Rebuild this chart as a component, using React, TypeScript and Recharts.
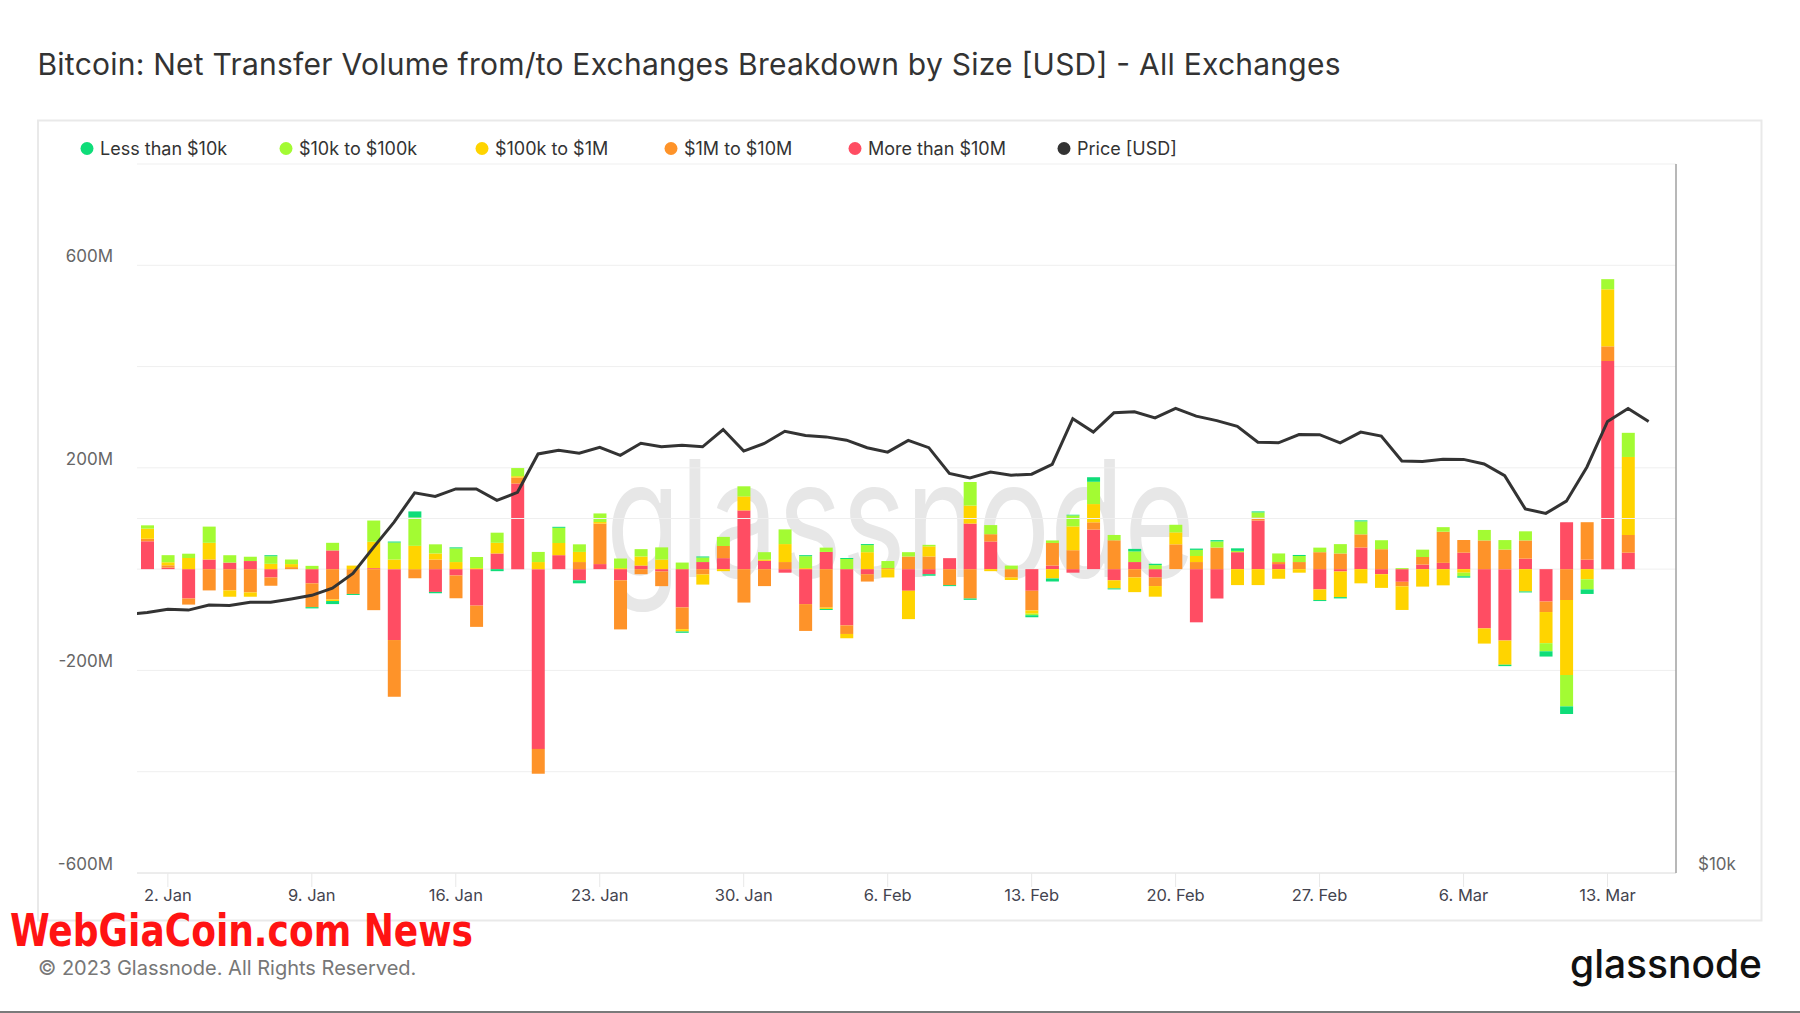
import {
  Bar,
  CartesianGrid,
  ComposedChart,
  Line,
  ReferenceLine,
  XAxis,
  YAxis,
} from 'recharts';

const FONT = 'Inter, "Noto Sans", "DejaVu Sans", sans-serif';

// plot box in page pixels
const PLOT_LEFT = 137;
const PLOT_RIGHT = 1676;
const PLOT_TOP = 164;
const PLOT_BOTTOM = 873;

// day index: 0 = 1 Jan 2023
const tickDays = [1, 8, 15, 22, 29, 36, 43, 50, 57, 64, 71];
const tickLabels = ['2. Jan', '9. Jan', '16. Jan', '23. Jan', '30. Jan', '6. Feb', '13. Feb', '20. Feb', '27. Feb', '6. Mar', '13. Mar'];

const flowTicks = [-600, -400, -200, 0, 200, 400, 600, 800];
const flowLabels = [-600, -200, 200, 600];

// net transfer volume, USD millions, 1 Jan .. 14 Mar
const lessThan10k = [
  0, 0, 0, 0, 0, 0, 2, 0, -2.5, -6, -2, 0, 2, 12, -2.6, 2, 0, -4, 0, 0,
  2, -6, 0, 0, 0, 0, -2.6, 2, 0, 0, 0, 0, 2, -2, 2, 2, 0, 0, -3, -2,
  -2.6, 0, 0, -4, -6, 1.3, 9, -2, 5, 2.6, 0, 2.6, 2.6, 5, 2, 0, 2, -2, -2.6, 2,
  0, 0, 0, 0, -2.8, 0, -2.8, -2, -10.4, -15, -9, 0, 0,
];
const from10kTo100k = [
  6.5, 14, 8.5, 32, 14.5, 8.5, 15, 9, 6.5, 15, 0, 42, 33.5, 56, 18, 27, 22, 20, 16, 20,
  30, 15, 17, 19, 14.5, 24, 13, 9, 18, 20, 14.5, 29, 23.6, 8.5, 20, 14, 14, 8.5, 3, 0,
  46.6, 18, 7, -3, 5, 21.7, 44, 10.5, 21, 8, 15, 12, 12, 2.6, 10, 17, 12, 9, 18.4, 25.6,
  17.7, 2, 14.5, 9, -7, 20.7, 18.7, 18, -16, -62, -20, 20, 47.7,
];
const from100kTo1M = [
  20, 6, 22, 33, -12.5, -8.5, 10.5, 6, 0, -3, 7, 52, 19, 46, 12, 14, 2, 21, 2.6, 14,
  24, 20, 3, 2, 18, 19, -4.6, -20, -4, 27.6, 2.6, 35.5, 2, -2.6, -8.5, 33.5, -16.4, -56, 20, 0,
  35.5, -4, -5, -6.5, -18.4, 47, 36, -16, -29, -21, 23.6, 12, 0, -31.5, -31.5, -19, -7, -21, -50.6, -28,
  -27, -46.6, -34.5, -32, -7, -30, -47.7, -44, -61.5, -148, -20, 112.6, 154,
];
const from1MTo10M = [
  5, 4.6, -12, -42, -42, -46, -16.4, 4, -47, -60, -49, -81, -112, -18, 19, -45, -42, 0, 12, -49,
  0, 14, 80, -97, -10, -29, -43, -10.5, 24, -66, -33.5, 14, -53, -76, -17, -14.5, 2, 25, 25, -31.5,
  -58, 14.5, -16.4, -38.8, 44.7, 37.4, 14.5, 57, -16.4, -17, 49, 14, 42.7, 0, 6, 4, 14, 33.5, 31, 26,
  39.4, -9, 15, 61.5, 25, 56.7, 38.7, 36, -20.7, -61, 74, 29, 35,
];
const moreThan10M = [
  55, 3, -58, 19, 13, 16, -16.4, 0, -28, 37, 0, 2, -140, 0, -45, -12.5, -72, 31, 169, -355,
  27.6, -22, 10, -22, 7, -4.6, -75.5, 14, 21.7, 116, 16.4, -7, -69, 34, -111, -10, 0, -42.7, -10, 21.7,
  90, 54.5, 0, -42.7, 7, -7, 78, -22, 14, -16.4, 0, -105, -58, 33.5, 96, 10, 0, -40, -4.6, 42.7,
  -10, -25, 9, 12.4, 32.5, -117, -141, 20.7, -64, 92.6, 18.7, 411, 32.5,
];

// BTC price, USD, 31 Dec .. 15 Mar
const priceFirstDay = -1;
const priceUsd = [
  16580, 16640, 16750, 16720, 16890, 16870, 16980, 16980, 17090, 17210, 17450,
  17960, 18900, 19860, 21030, 20880, 21190, 21190, 20720, 21050, 22690,
  22850, 22720, 22990, 22630, 23170, 23010, 23080, 23010, 23800, 22820,
  23160, 23720, 23520, 23460, 23310, 22970, 22770, 23300, 22970, 21840,
  21650, 21900, 21770, 21810, 22230, 24310, 23680, 24590, 24640, 24350,
  24810, 24430, 24220, 23950, 23220, 23190, 23570, 23560, 23190, 23680,
  23500, 22380, 22360, 22460, 22450, 22250, 21750, 20380, 20200, 20690,
  22120, 24180, 24800, 24180,
];

// stacking order: first entry sits next to zero
const stack = [
  { key: 'm10', name: 'More than $10M', color: '#ff4d63', values: moreThan10M },
  { key: 'm1', name: '$1M to $10M', color: '#fe9329', values: from1MTo10M },
  { key: 'k100', name: '$100k to $1M', color: '#ffd400', values: from100kTo1M },
  { key: 'k10', name: '$10k to $100k', color: '#a3fb33', values: from10kTo100k },
  { key: 'k0', name: 'Less than $10k', color: '#0fdd79', values: lessThan10k },
];

const legendItems = [
  { name: 'Less than $10k', color: '#0fdd79', x: 87 },
  { name: '$10k to $100k', color: '#a3fb33', x: 286 },
  { name: '$100k to $1M', color: '#ffd400', x: 482 },
  { name: '$1M to $10M', color: '#fe9329', x: 671 },
  { name: 'More than $10M', color: '#ff4d63', x: 855 },
  { name: 'Price [USD]', color: '#333333', x: 1064 },
];

const flowRows = moreThan10M.map((_, i) => {
  const row: Record<string, number> = { t: i };
  stack.forEach((s) => {
    row[s.key] = s.values[i];
  });
  return row;
});

const priceRows = priceUsd.map((p, i) => ({ t: i + priceFirstDay, price: p }));

function XTick({ x, payload }: any) {
  const label = tickLabels[tickDays.indexOf(payload.value)];
  return (
    <text x={x} y={PLOT_BOTTOM + 22} textAnchor="middle" dominantBaseline="central" fontFamily={FONT} fontSize={16.5} fill="#44444f">
      {label}
    </text>
  );
}

function FlowTick({ y, payload }: any) {
  if (!flowLabels.includes(payload.value)) return null;
  return (
    <text x={PLOT_LEFT - 24} y={y - 9} textAnchor="end" dominantBaseline="central" fontFamily={FONT} fontSize={17} fill="#666">
      {`${payload.value}M`}
    </text>
  );
}

function PriceTick({ y, payload }: any) {
  return (
    <text x={PLOT_RIGHT + 22} y={y - 9} textAnchor="start" dominantBaseline="central" fontFamily={FONT} fontSize={17} fill="#666">
      {`$${payload.value / 1000}k`}
    </text>
  );
}

export default function App() {
  return (
    <div style={{ position: 'relative', width: 1800, height: 1013, overflow: 'hidden', background: '#fff' }}>
      <style>{'body{margin:0}'}</style>

      <svg width={1800} height={1013} style={{ position: 'absolute', left: 0, top: 0 }}>
        <rect x={38} y={120.5} width={1723.5} height={800} fill="none" stroke="#e9e9e9" strokeWidth={2} />
        <text x={606} y={577} fontFamily={FONT} fontSize={162} fill="#e7e7e7" textLength={589} lengthAdjust="spacingAndGlyphs">
          glassnode
        </text>
      </svg>

      <div style={{ position: 'absolute', left: 0, top: 0 }}>
        <ComposedChart
          width={1800}
          height={1013}
          data={flowRows}
          stackOffset="sign"
          margin={{ top: PLOT_TOP, right: 1800 - PLOT_RIGHT - 60, bottom: 1013 - PLOT_BOTTOM - 30, left: PLOT_LEFT - 100 }}
        >
          <CartesianGrid yAxisId="flow" vertical={false} stroke="#efefef" />
          <XAxis
            dataKey="t"
            type="number"
            domain={[-0.5, 74.33]}
            allowDataOverflow
            ticks={tickDays}
            interval={0}
            height={30}
            tickSize={14}
            tickLine={{ stroke: '#e8e8e8' }}
            axisLine={{ stroke: '#e2e2e2' }}
            tick={<XTick />}
          />
          <YAxis
            yAxisId="flow"
            domain={[-600, 800]}
            ticks={flowTicks}
            interval={0}
            width={100}
            axisLine={false}
            tickLine={false}
            tick={<FlowTick />}
            allowDataOverflow
          />
          <YAxis
            yAxisId="price"
            orientation="right"
            scale="log"
            domain={[10000, 40000]}
            ticks={[10000]}
            width={60}
            axisLine={{ stroke: '#a0a0a0', strokeWidth: 1.5 }}
            tickLine={false}
            tick={<PriceTick />}
            allowDataOverflow
          />
          <ReferenceLine yAxisId="price" y={20000} stroke="#efefef" />
          {stack.map((s) => (
            <Bar
              key={s.key}
              yAxisId="flow"
              dataKey={s.key}
              name={s.name}
              stackId="flow"
              fill={s.color}
              barSize={13}
              isAnimationActive={false}
            />
          ))}
          <Line
            yAxisId="price"
            data={priceRows}
            dataKey="price"
            name="Price [USD]"
            stroke="#333"
            strokeWidth={3}
            dot={false}
            activeDot={false}
            isAnimationActive={false}
          />
        </ComposedChart>
      </div>

      <svg width={1800} height={1013} style={{ position: 'absolute', left: 0, top: 0, pointerEvents: 'none' }}>
        <text x={37.5} y={75} fontFamily={FONT} fontSize={30} fontWeight={400} fill="#333" textLength={1303}>
          Bitcoin: Net Transfer Volume from/to Exchanges Breakdown by Size [USD] - All Exchanges
        </text>
        {legendItems.map((it) => (
          <g key={it.name}>
            <circle cx={it.x} cy={148.5} r={6.5} fill={it.color} />
            <text x={it.x + 13} y={148.5} dominantBaseline="central" fontFamily={FONT} fontSize={18} fill="#333">
              {it.name}
            </text>
          </g>
        ))}
        <text x={10} y={946} fontFamily='"Liberation Sans Narrow", "DejaVu Sans Condensed", "Liberation Sans", sans-serif' fontSize={45} fontWeight={700} fill="#ff1313" textLength={463} lengthAdjust="spacingAndGlyphs">
          WebGiaCoin.com News
        </text>
        <text x={38} y={975} fontFamily={FONT} fontSize={20} fill="#777">
          © 2023 Glassnode. All Rights Reserved.
        </text>
        <text x={1570} y={977.5} fontFamily={FONT} fontSize={39} fontWeight={500} fill="#111" textLength={192} lengthAdjust="spacingAndGlyphs">
          glassnode
        </text>
      </svg>
      <div style={{ position: 'absolute', left: 0, top: 1011, width: 1800, height: 2, background: '#7a7a7a' }} />
    </div>
  );
}
